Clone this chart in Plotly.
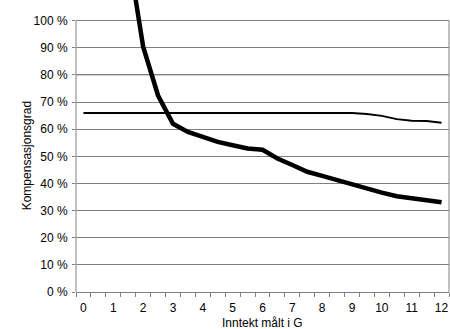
import plotly.graph_objects as go

# Income measured in G (steps of 0.5 G)
income_g = [0, 0.5, 1, 1.5, 2, 2.5, 3, 3.5, 4, 4.5, 5, 5.5, 6,
            6.5, 7, 7.5, 8, 8.5, 9, 9.5, 10, 10.5, 11, 11.5, 12]

# Compensation rate (%), flat scheme
flat_rate = [66, 66, 66, 66, 66, 66, 66, 66, 66, 66, 66, 66, 66,
             66, 66, 66, 66, 66, 66, 65.6, 64.9, 63.7, 63.1, 63.0, 62.4]

# Compensation rate (%), declining scheme
declining_rate = [None, None, None, 125, 90.4, 72.4, 62, 59, 57.2, 55.3, 54.1, 52.9, 52.4,
                  49.2, 46.8, 44.3, 42.8, 41.2, 39.6, 38.2, 36.6, 35.3, 34.7, 33.7, 33.1]

x_tick_vals = [0, 1, 2, 3, 4, 5, 6, 7, 8, 9, 10, 11, 12]
x_tick_text = ["0", "1", "2", "3", "4", "5", "6", "7", "8", "9", "10", "11", "12"]
y_tick_vals = [0, 10, 20, 30, 40, 50, 60, 70, 80, 90, 100]
y_tick_text = ["0 %", "10 %", "20 %", "30 %", "40 %", "50 %", "60 %",
               "70 %", "80 %", "90 %", "100 %"]

GRID = "#808080"
FONT = dict(family="Liberation Sans, Arial, sans-serif", size=12, color="black")

fig = go.Figure()
fig.add_trace(go.Scatter(x=income_g, y=flat_rate, mode="lines",
                         line=dict(color="black", width=2), showlegend=False))
fig.add_trace(go.Scatter(x=income_g, y=declining_rate, mode="lines",
                         line=dict(color="black", width=4.5), showlegend=False,
                         connectgaps=False))

# Light 80 % reference line over the grid
fig.add_shape(type="line", xref="paper", x0=0, x1=1, yref="y", y0=80, y1=80,
              line=dict(color="#c0c0c0", width=1.5), layer="below")
# Left axis line and right border, from 0 % to 100 %
fig.add_shape(type="line", xref="paper", x0=0, x1=0, yref="y", y0=0, y1=100,
              line=dict(color=GRID, width=1), layer="below")
fig.add_shape(type="line", xref="paper", x0=1, x1=1, yref="y", y0=0, y1=100,
              line=dict(color=GRID, width=1), layer="below")

fig.add_annotation(text="Kompensasjonsgrad", xref="paper", x=0, xshift=-49,
                   yref="y", y=50, textangle=-90, showarrow=False,
                   xanchor="center", yanchor="middle", font=FONT)
fig.add_annotation(text="Inntekt målt i G", xref="paper", x=0.5,
                   yref="paper", y=0, yshift=-31, showarrow=False,
                   xanchor="center", yanchor="middle", font=FONT)

fig.update_layout(
    width=450, height=329,
    margin=dict(l=76, r=1, t=0, b=37, pad=0),
    paper_bgcolor="white", plot_bgcolor="white",
    font=FONT,
    xaxis=dict(range=[-0.25, 12.25], tickmode="array", tickvals=x_tick_vals,
               ticktext=x_tick_text, ticks="outside", ticklen=0,
               showgrid=False, zeroline=False, showline=True,
               linecolor=GRID, linewidth=1, ticklabelstandoff=5,
               minor=dict(ticks="outside", ticklen=4, tick0=-0.25, dtick=0.5,
                          tickcolor=GRID, showgrid=False)),
    yaxis=dict(range=[0, 107.6], tickmode="array", tickvals=y_tick_vals,
               ticktext=y_tick_text, ticks="outside", ticklen=3,
               tickcolor=GRID, showgrid=True, gridcolor=GRID, gridwidth=1,
               zeroline=False, showline=False, ticklabelstandoff=2),
)

fig.write_html("out.html")
